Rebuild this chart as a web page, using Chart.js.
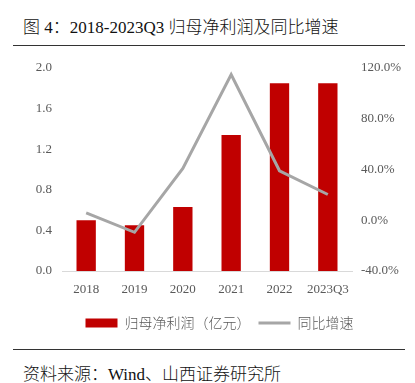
<!DOCTYPE html>
<html>
<head>
<meta charset="utf-8">
<script src="https://cdn.jsdelivr.net/npm/chart.js@4"></script>
<style>
  html, body { margin: 0; padding: 0; background: #fff; }
  body { width: 415px; height: 383px; position: relative; overflow: hidden; }
  #title {
    position: absolute; left: 23px; top: 13px;
    font: 300 17px "Liberation Serif", "Noto Sans CJK SC", serif; color: #111;
    white-space: nowrap;
  }
  .rule { position: absolute; left: 13px; width: 392px; height: 1px; background: #333; }
  #box { position: absolute; left: 0; top: 50px; width: 415px; height: 290px; }
  #source {
    position: absolute; left: 23px; top: 360px;
    font: 300 17px "Liberation Serif", "Noto Sans CJK SC", serif; color: #111;
    white-space: nowrap;
  }
</style>
</head>
<body>
<div id="title">图 4：2018-2023Q3 归母净利润及同比增速</div>
<div class="rule" style="top:45px"></div>
<div id="box"><canvas id="chart"></canvas></div>
<div class="rule" style="top:349px"></div>
<div id="source">资料来源：Wind、山西证券研究所</div>

<script>
// data
const years = ['2018', '2019', '2020', '2021', '2022', '2023Q3'];
const netProfit = [0.50, 0.45, 0.63, 1.34, 1.85, 1.85];   // 亿元
const yoyGrowth = [5.8, -9.5, 40.9, 114.9, 39.0, 20.3];   // %

const profitTicks = [0, 0.4, 0.8, 1.2, 1.6, 2.0];
const growthTicks = [-40, 0, 40, 80, 120];

const tickFont = { family: '"Liberation Serif", "Times New Roman", serif', size: 13 };
const grey = '#595959';

const ctx = document.getElementById('chart').getContext('2d');
new Chart(ctx, {
  type: 'bar',
  data: {
    labels: years,
    datasets: [
      {
        type: 'bar',
        label: '归母净利润（亿元）',
        data: netProfit,
        backgroundColor: '#C00000',
        borderWidth: 0,
        barPercentage: 0.8,
        categoryPercentage: 0.5,
        pointStyle: 'rect',
        yAxisID: 'y',
        order: 1
      },
      {
        type: 'line',
        label: '同比增速',
        data: yoyGrowth,
        borderColor: '#A6A6A6',
        backgroundColor: '#A6A6A6',
        borderWidth: 3,
        pointRadius: 0,
        tension: 0,
        pointStyle: 'line',
        yAxisID: 'y1',
        order: 0
      }
    ]
  },
  options: {
    responsive: true,
    maintainAspectRatio: false,
    animation: false,
    // left padding shifts the legend a little right, as in the original
    layout: { padding: { top: 18, bottom: 0, left: 24, right: 0 } },
    plugins: {
      tooltip: { enabled: false },
      legend: {
        position: 'bottom',
        labels: {
          usePointStyle: true,
          pointStyleWidth: 32,
          boxHeight: 9,
          padding: 8,
          color: grey,
          font: { family: '"Noto Sans CJK SC", sans-serif', size: 14, weight: 300 },
          sort: (a, b) => a.datasetIndex - b.datasetIndex
        }
      }
    },
    scales: {
      x: {
        grid: { display: false, drawTicks: false },
        border: { display: true, color: '#D9D9D9', width: 1 },
        ticks: { color: grey, font: tickFont, padding: 11, maxRotation: 0 },
        afterFit: (s) => { s.height = 37; }
      },
      y: {
        position: 'left',
        min: 0, max: 2,
        grid: { display: false, drawTicks: false },
        border: { display: false },
        afterBuildTicks: (s) => { s.ticks = profitTicks.map(v => ({ value: v })); },
        ticks: { color: grey, font: tickFont, padding: 10, callback: (v) => Number(v).toFixed(1) },
        afterFit: (s) => { s.width = 38; }
      },
      y1: {
        position: 'right',
        min: -40, max: 120,
        grid: { display: false, drawTicks: false },
        border: { display: false },
        afterBuildTicks: (s) => { s.ticks = growthTicks.map(v => ({ value: v })); },
        ticks: { color: grey, font: tickFont, padding: 9, callback: (v) => Number(v).toFixed(1) + '%' },
        afterFit: (s) => { s.width = 63; }
      }
    }
  }
});
</script>
</body>
</html>
